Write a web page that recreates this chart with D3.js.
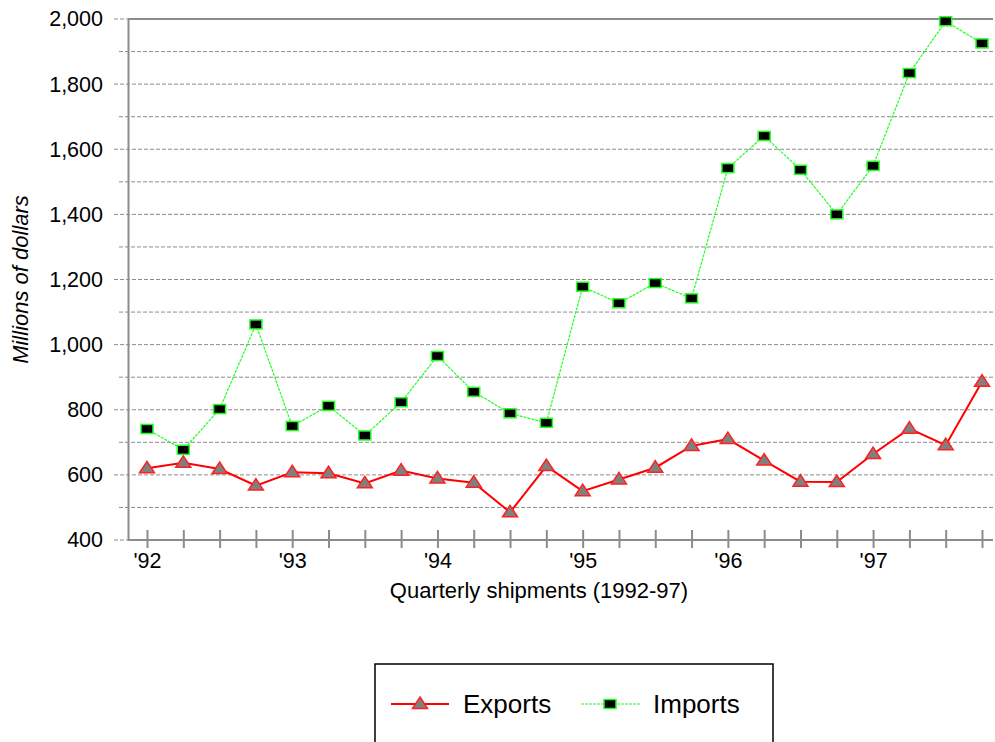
<!DOCTYPE html>
<html>
<head>
<meta charset="utf-8">
<script src="https://cdn.jsdelivr.net/npm/d3@7"></script>
<style>
  html, body { margin: 0; padding: 0; background: #fff; }
  svg { display: block; font-family: "Liberation Sans", Arial, sans-serif; }
</style>
</head>
<body>
<svg id="chart" width="995" height="742"></svg>
<script>
// ---- data ----
const quarters = d3.range(24); // 1992 Q1 .. 1997 Q4
const yearLabels = ["'92", "'93", "'94", "'95", "'96", "'97"];
const exportsVals = [620, 637, 618, 567, 608, 605, 574, 613, 589, 576, 485, 627,
                     550, 586, 622, 689, 710, 644, 579, 578, 664, 742, 691, 886];
const importsVals = [741, 677, 802, 1062, 750, 812, 721, 823, 965, 855, 789, 760,
                     1178, 1127, 1189, 1142, 1542, 1641, 1537, 1400, 1549, 1834, 1993, 1925];
const yTickValues = [400, 600, 800, 1000, 1200, 1400, 1600, 1800, 2000];
const yMinorValues = [500, 700, 900, 1100, 1300, 1500, 1700, 1900];
const seriesNames = ["Exports", "Imports"];

// ---- layout ----
const svg = d3.select("#chart");
const axisLeftX = 128, plotRight = 993, plotTop = 19, plotBottom = 540;
const x = d3.scaleLinear().domain([0, 23]).range([147, 982]);
const y = d3.scaleLinear().domain([400, 2000]).range([plotBottom, plotTop]);
const gridColor = "#8c8c8c";
const axisColor = "#8c8c8c";

// gridlines (major + minor), dashed
svg.append("g").selectAll("line.major").data(yTickValues.filter(v => v !== 2000 && v !== 400)).join("line")
  .attr("x1", 114).attr("x2", plotRight)
  .attr("y1", d => y(d)).attr("y2", d => y(d))
  .attr("stroke", gridColor).attr("stroke-width", 1).attr("stroke-dasharray", "4,2");
svg.append("g").selectAll("line.minor").data(yMinorValues).join("line")
  .attr("x1", 119).attr("x2", plotRight)
  .attr("y1", d => y(d)).attr("y2", d => y(d))
  .attr("stroke", gridColor).attr("stroke-width", 1).attr("stroke-dasharray", "4,2");
// tick stubs for 2000 and 400
svg.append("g").selectAll("line.stub").data([400, 2000]).join("line")
  .attr("x1", 114).attr("x2", axisLeftX)
  .attr("y1", d => y(d)).attr("y2", d => y(d))
  .attr("stroke", gridColor).attr("stroke-width", 1).attr("stroke-dasharray", "4,2");

// top border
svg.append("line").attr("x1", axisLeftX).attr("x2", plotRight)
  .attr("y1", y(2000)).attr("y2", y(2000))
  .attr("stroke", axisColor).attr("stroke-width", 2);

// y axis
const yAxis = d3.axisLeft(y).tickValues(yTickValues).tickFormat(d3.format(",")).tickSize(0).tickPadding(25);
const gy = svg.append("g").attr("transform", `translate(${axisLeftX},0)`).call(yAxis);
gy.select(".domain").attr("stroke", axisColor).attr("stroke-width", 2);
gy.selectAll("text").attr("font-size", "21.5px").attr("fill", "#000")
  .attr("font-family", "'Liberation Sans', Arial, sans-serif");

// x axis
const xAxis = d3.axisBottom(x).tickValues(quarters).tickSize(0)
  .tickFormat(d => d % 4 === 0 ? yearLabels[d / 4] : "");
const gx = svg.append("g").attr("transform", `translate(0,${plotBottom})`).call(xAxis);
gx.select(".domain").remove();
gx.append("line").attr("x1", axisLeftX).attr("x2", plotRight).attr("y1", 0).attr("y2", 0)
  .attr("stroke", axisColor).attr("stroke-width", 2);
gx.selectAll(".tick").append("line").attr("y1", -10).attr("y2", 8)
  .attr("stroke", axisColor).attr("stroke-width", 2);
gx.selectAll("text").attr("font-size", "21.5px").attr("fill", "#000").attr("dy", 0).attr("y", 28)
  .attr("font-family", "'Liberation Sans', Arial, sans-serif");

// axis titles
svg.append("text").attr("x", 539).attr("y", 598).attr("text-anchor", "middle")
  .attr("font-size", "22px").text("Quarterly shipments (1992-97)");
svg.append("text").attr("transform", `translate(28,${(plotTop + plotBottom) / 2}) rotate(-90)`)
  .attr("text-anchor", "middle").attr("font-size", "22px").attr("font-style", "italic")
  .text("Millions of dollars");

// lines
const importsLine = d3.line().x((d, i) => x(i)).y(d => y(d));
svg.append("path").datum(importsVals).attr("d", importsLine)
  .attr("fill", "none").attr("stroke", "#22ff22").attr("stroke-width", 1.2).attr("stroke-dasharray", "3,1");
svg.append("path").datum(exportsVals).attr("d", importsLine)
  .attr("fill", "none").attr("stroke", "#ff0000").attr("stroke-width", 2);

// markers
const tri = "M0,-7 L7.5,4.5 L-7.5,4.5 Z";
svg.append("g").selectAll("path").data(exportsVals).join("path")
  .attr("d", tri).attr("transform", (d, i) => `translate(${x(i)},${y(d)})`)
  .attr("fill", "#808080").attr("stroke", "#ff2020").attr("stroke-width", 1.5);
svg.append("g").selectAll("rect").data(importsVals).join("rect")
  .attr("x", (d, i) => x(i) - 6).attr("y", d => y(d) - 4.5).attr("width", 12).attr("height", 9)
  .attr("fill", "#000").attr("stroke", "#22ff22").attr("stroke-width", 1.5);

// legend
const lg = svg.append("g");
lg.append("rect").attr("x", 375).attr("y", 664).attr("width", 398).attr("height", 100)
  .attr("fill", "#fff").attr("stroke", "#000").attr("stroke-width", 1.5);
lg.append("line").attr("x1", 391).attr("x2", 449).attr("y1", 704).attr("y2", 704)
  .attr("stroke", "#ff0000").attr("stroke-width", 2);
lg.append("path").attr("d", tri).attr("transform", "translate(420,704)")
  .attr("fill", "#808080").attr("stroke", "#ff2020").attr("stroke-width", 1.5);
lg.append("text").attr("x", 463).attr("y", 713).attr("font-size", "26px").text(seriesNames[0]);
lg.append("line").attr("x1", 581).attr("x2", 640).attr("y1", 704).attr("y2", 704)
  .attr("stroke", "#22ff22").attr("stroke-width", 1.2).attr("stroke-dasharray", "3,1");
lg.append("rect").attr("x", 604).attr("y", 699.5).attr("width", 12).attr("height", 9)
  .attr("fill", "#000").attr("stroke", "#22ff22").attr("stroke-width", 1.5);
lg.append("text").attr("x", 653).attr("y", 713).attr("font-size", "26px").text(seriesNames[1]);
</script>
</body>
</html>
